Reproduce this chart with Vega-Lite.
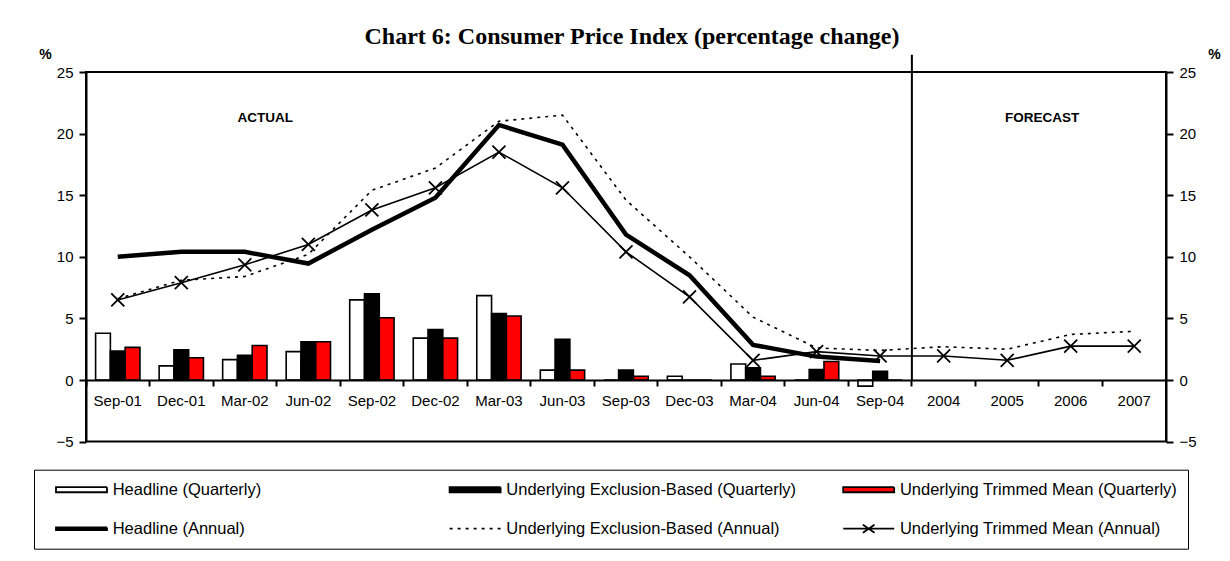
{
  "$schema": "https://vega.github.io/schema/vega-lite/v6.json",
  "width": 1080,
  "height": 369.6,
  "autosize": {"type": "none"},
  "padding": {"left": 86, "top": 72, "right": 64, "bottom": 119.4},
  "background": "white",
  "title": {
    "text": "Chart 6: Consumer Price Index (percentage change)",
    "font": "Liberation Serif", "fontSize": 24, "fontWeight": "bold", "color": "black",
    "anchor": "middle", "frame": "group", "offset": -2, "dx": 6
  },
  "config": {
    "view": {"stroke": "black", "strokeWidth": 2},
    "axis": {
      "labelFont": "Liberation Sans", "labelFontSize": 15, "labelColor": "black",
      "domainColor": "black", "domainWidth": 2, "tickColor": "black", "tickWidth": 2,
      "grid": false, "titleFont": "Liberation Sans", "titleFontSize": 14,
      "titleFontWeight": "bold", "titleColor": "black"
    }
  },
  "data": {
    "values": [
      {"period": "Sep-01", "series": "Headline (Quarterly)", "value": 3.8},
      {"period": "Dec-01", "series": "Headline (Quarterly)", "value": 1.15},
      {"period": "Mar-02", "series": "Headline (Quarterly)", "value": 1.65},
      {"period": "Jun-02", "series": "Headline (Quarterly)", "value": 2.3},
      {"period": "Sep-02", "series": "Headline (Quarterly)", "value": 6.5},
      {"period": "Dec-02", "series": "Headline (Quarterly)", "value": 3.4},
      {"period": "Mar-03", "series": "Headline (Quarterly)", "value": 6.85},
      {"period": "Jun-03", "series": "Headline (Quarterly)", "value": 0.8},
      {"period": "Sep-03", "series": "Headline (Quarterly)", "value": 0},
      {"period": "Dec-03", "series": "Headline (Quarterly)", "value": 0.3},
      {"period": "Mar-04", "series": "Headline (Quarterly)", "value": 1.3},
      {"period": "Jun-04", "series": "Headline (Quarterly)", "value": 0},
      {"period": "Sep-04", "series": "Headline (Quarterly)", "value": -0.5},
      {"period": "Sep-01", "series": "Underlying Exclusion-Based (Quarterly)", "value": 2.35},
      {"period": "Dec-01", "series": "Underlying Exclusion-Based (Quarterly)", "value": 2.45},
      {"period": "Mar-02", "series": "Underlying Exclusion-Based (Quarterly)", "value": 2.0},
      {"period": "Jun-02", "series": "Underlying Exclusion-Based (Quarterly)", "value": 3.1},
      {"period": "Sep-02", "series": "Underlying Exclusion-Based (Quarterly)", "value": 7.0},
      {"period": "Dec-02", "series": "Underlying Exclusion-Based (Quarterly)", "value": 4.1},
      {"period": "Mar-03", "series": "Underlying Exclusion-Based (Quarterly)", "value": 5.4},
      {"period": "Jun-03", "series": "Underlying Exclusion-Based (Quarterly)", "value": 3.3},
      {"period": "Sep-03", "series": "Underlying Exclusion-Based (Quarterly)", "value": 0.8},
      {"period": "Dec-03", "series": "Underlying Exclusion-Based (Quarterly)", "value": 0},
      {"period": "Mar-04", "series": "Underlying Exclusion-Based (Quarterly)", "value": 1.0},
      {"period": "Jun-04", "series": "Underlying Exclusion-Based (Quarterly)", "value": 0.85},
      {"period": "Sep-04", "series": "Underlying Exclusion-Based (Quarterly)", "value": 0.7},
      {"period": "Sep-01", "series": "Underlying Trimmed Mean (Quarterly)", "value": 2.65},
      {"period": "Dec-01", "series": "Underlying Trimmed Mean (Quarterly)", "value": 1.8},
      {"period": "Mar-02", "series": "Underlying Trimmed Mean (Quarterly)", "value": 2.8},
      {"period": "Jun-02", "series": "Underlying Trimmed Mean (Quarterly)", "value": 3.1},
      {"period": "Sep-02", "series": "Underlying Trimmed Mean (Quarterly)", "value": 5.05},
      {"period": "Dec-02", "series": "Underlying Trimmed Mean (Quarterly)", "value": 3.4},
      {"period": "Mar-03", "series": "Underlying Trimmed Mean (Quarterly)", "value": 5.2},
      {"period": "Jun-03", "series": "Underlying Trimmed Mean (Quarterly)", "value": 0.8},
      {"period": "Sep-03", "series": "Underlying Trimmed Mean (Quarterly)", "value": 0.3},
      {"period": "Dec-03", "series": "Underlying Trimmed Mean (Quarterly)", "value": 0},
      {"period": "Mar-04", "series": "Underlying Trimmed Mean (Quarterly)", "value": 0.3},
      {"period": "Jun-04", "series": "Underlying Trimmed Mean (Quarterly)", "value": 1.5},
      {"period": "Sep-04", "series": "Underlying Trimmed Mean (Quarterly)", "value": 0},
      {"period": "Sep-01", "series": "Headline (Annual)", "value": 10.0},
      {"period": "Dec-01", "series": "Headline (Annual)", "value": 10.4},
      {"period": "Mar-02", "series": "Headline (Annual)", "value": 10.4},
      {"period": "Jun-02", "series": "Headline (Annual)", "value": 9.45},
      {"period": "Sep-02", "series": "Headline (Annual)", "value": 12.2},
      {"period": "Dec-02", "series": "Headline (Annual)", "value": 14.8},
      {"period": "Mar-03", "series": "Headline (Annual)", "value": 20.7},
      {"period": "Jun-03", "series": "Headline (Annual)", "value": 19.1},
      {"period": "Sep-03", "series": "Headline (Annual)", "value": 11.8},
      {"period": "Dec-03", "series": "Headline (Annual)", "value": 8.5},
      {"period": "Mar-04", "series": "Headline (Annual)", "value": 2.85},
      {"period": "Jun-04", "series": "Headline (Annual)", "value": 1.9},
      {"period": "Sep-04", "series": "Headline (Annual)", "value": 1.55},
      {"period": "Sep-01", "series": "Underlying Exclusion-Based (Annual)", "value": 6.6},
      {"period": "Dec-01", "series": "Underlying Exclusion-Based (Annual)", "value": 8.1},
      {"period": "Mar-02", "series": "Underlying Exclusion-Based (Annual)", "value": 8.4},
      {"period": "Jun-02", "series": "Underlying Exclusion-Based (Annual)", "value": 10.2},
      {"period": "Sep-02", "series": "Underlying Exclusion-Based (Annual)", "value": 15.4},
      {"period": "Dec-02", "series": "Underlying Exclusion-Based (Annual)", "value": 17.2},
      {"period": "Mar-03", "series": "Underlying Exclusion-Based (Annual)", "value": 21.0},
      {"period": "Jun-03", "series": "Underlying Exclusion-Based (Annual)", "value": 21.5},
      {"period": "Sep-03", "series": "Underlying Exclusion-Based (Annual)", "value": 14.6},
      {"period": "Dec-03", "series": "Underlying Exclusion-Based (Annual)", "value": 10.0},
      {"period": "Mar-04", "series": "Underlying Exclusion-Based (Annual)", "value": 5.1},
      {"period": "Jun-04", "series": "Underlying Exclusion-Based (Annual)", "value": 2.6},
      {"period": "Sep-04", "series": "Underlying Exclusion-Based (Annual)", "value": 2.4},
      {"period": "2004", "series": "Underlying Exclusion-Based (Annual)", "value": 2.7},
      {"period": "2005", "series": "Underlying Exclusion-Based (Annual)", "value": 2.5},
      {"period": "2006", "series": "Underlying Exclusion-Based (Annual)", "value": 3.7},
      {"period": "2007", "series": "Underlying Exclusion-Based (Annual)", "value": 3.95},
      {"period": "Sep-01", "series": "Underlying Trimmed Mean (Annual)", "value": 6.5},
      {"period": "Dec-01", "series": "Underlying Trimmed Mean (Annual)", "value": 7.9},
      {"period": "Mar-02", "series": "Underlying Trimmed Mean (Annual)", "value": 9.35},
      {"period": "Jun-02", "series": "Underlying Trimmed Mean (Annual)", "value": 11.0},
      {"period": "Sep-02", "series": "Underlying Trimmed Mean (Annual)", "value": 13.8},
      {"period": "Dec-02", "series": "Underlying Trimmed Mean (Annual)", "value": 15.6},
      {"period": "Mar-03", "series": "Underlying Trimmed Mean (Annual)", "value": 18.5},
      {"period": "Jun-03", "series": "Underlying Trimmed Mean (Annual)", "value": 15.6},
      {"period": "Sep-03", "series": "Underlying Trimmed Mean (Annual)", "value": 10.4},
      {"period": "Dec-03", "series": "Underlying Trimmed Mean (Annual)", "value": 6.75},
      {"period": "Mar-04", "series": "Underlying Trimmed Mean (Annual)", "value": 1.6},
      {"period": "Jun-04", "series": "Underlying Trimmed Mean (Annual)", "value": 2.3},
      {"period": "Sep-04", "series": "Underlying Trimmed Mean (Annual)", "value": 1.95},
      {"period": "2004", "series": "Underlying Trimmed Mean (Annual)", "value": 1.95},
      {"period": "2005", "series": "Underlying Trimmed Mean (Annual)", "value": 1.6},
      {"period": "2006", "series": "Underlying Trimmed Mean (Annual)", "value": 2.75},
      {"period": "2007", "series": "Underlying Trimmed Mean (Annual)", "value": 2.75}
    ]
  },
  "layer": [
    {
      "transform": [{"filter": {"field": "series", "oneOf": ["Headline (Quarterly)", "Underlying Exclusion-Based (Quarterly)", "Underlying Trimmed Mean (Quarterly)"]}}],
      "mark": {"type": "bar", "stroke": "black", "strokeWidth": 1.6},
      "encoding": {
        "x": {
          "field": "period", "type": "nominal", "title": null,
          "scale": {"domain": ["Sep-01", "Dec-01", "Mar-02", "Jun-02", "Sep-02", "Dec-02", "Mar-03", "Jun-03", "Sep-03", "Dec-03", "Mar-04", "Jun-04", "Sep-04", "2004", "2005", "2006", "2007"], "paddingInner": 0, "paddingOuter": 0},
          "axis": {"orient": "bottom", "offset": -61.6, "bandPosition": 0, "tickSize": 6, "labelPadding": 7, "labelAngle": 0, "zindex": 1}
        },
        "xOffset": {
          "field": "series", "type": "nominal",
          "scale": {"domain": ["Headline (Quarterly)", "Underlying Exclusion-Based (Quarterly)", "Underlying Trimmed Mean (Quarterly)"], "paddingInner": 0, "paddingOuter": 0.65}
        },
        "y": {
          "field": "value", "type": "quantitative",
          "scale": {"domain": [-5, 25], "nice": false, "zero": false},
          "axis": {"orient": "left", "values": [-5, 0, 5, 10, 15, 20, 25], "tickSize": 7, "labelPadding": 6, "title": "%", "titleAngle": 0, "titleX": -41, "titleY": -14, "titleAlign": "center", "titleBaseline": "alphabetic"}
        },
        "fill": {
          "field": "series", "type": "nominal",
          "scale": {
            "domain": ["Headline (Quarterly)", "Underlying Exclusion-Based (Quarterly)", "Underlying Trimmed Mean (Quarterly)", "Headline (Annual)", "Underlying Exclusion-Based (Annual)", "Underlying Trimmed Mean (Annual)"],
            "range": ["white", "black", "red", "black", "transparent", "transparent"]
          },
          "legend": {
            "title": null, "orient": "none", "legendX": -52, "legendY": 397.7,
            "columns": 3, "direction": "horizontal", "gridAlign": "all",
            "columnPadding": 34.6, "rowPadding": 19, "padding": 10,
            "strokeColor": "black", "symbolSize": 2601, "symbolOffset": 11,
            "labelOffset": 4.7, "clipHeight": 20,
            "symbolType": "M-1,-0.1H1V0.1H-1Z", "symbolStrokeColor": "black", "symbolStrokeWidth": 1.8,
            "labelFont": "Liberation Sans", "labelFontSize": 16.5, "labelColor": "black", "labelLimit": 500,
            "encode": {
              "symbols": {
                "update": {
                  "shape": {"signal": "datum.index < 3 ? 'M-1,-0.1H1V0.1H-1Z' : datum.index == 3 ? 'M-1,-0.05H1V0.05H-1Z' : datum.index == 5 ? 'M-1,0H1M-0.23,-0.16L0.23,0.16M-0.23,0.16L0.23,-0.16' : 'M-1,0H1'"},
                  "strokeDash": {"signal": "datum.index == 4 ? [3, 5] : [1, 0]"}
                }
              }
            }
          }
        }
      }
    },
    {
      "transform": [{"filter": {"field": "series", "equal": "Headline (Annual)"}}],
      "mark": {"type": "line", "stroke": "black", "strokeWidth": 4.5},
      "encoding": {
        "x": {"field": "period", "type": "nominal", "title": null},
        "y": {
          "field": "value", "type": "quantitative",
          "axis": {"orient": "right", "values": [-5, 0, 5, 10, 15, 20, 25], "tickSize": 7, "labelPadding": 6, "title": "%", "titleAngle": 0, "titleX": 48, "titleY": -14, "titleAlign": "center", "titleBaseline": "alphabetic"}
        }
      }
    },
    {
      "transform": [{"filter": {"field": "series", "equal": "Underlying Exclusion-Based (Annual)"}}],
      "mark": {"type": "line", "stroke": "black", "strokeWidth": 1.6, "strokeDash": [3, 5]},
      "encoding": {
        "x": {"field": "period", "type": "nominal", "title": null},
        "y": {"field": "value", "type": "quantitative", "axis": null}
      }
    },
    {
      "transform": [{"filter": {"field": "series", "equal": "Underlying Trimmed Mean (Annual)"}}],
      "mark": {"type": "line", "stroke": "black", "strokeWidth": 1.6},
      "encoding": {
        "x": {"field": "period", "type": "nominal", "title": null},
        "y": {"field": "value", "type": "quantitative", "axis": null}
      }
    },
    {
      "transform": [{"filter": {"field": "series", "equal": "Underlying Trimmed Mean (Annual)"}}],
      "mark": {"type": "point", "shape": "M-1,-1L1,1M-1,1L1,-1", "filled": false, "stroke": "black", "strokeWidth": 1.8, "size": 169, "opacity": 1},
      "encoding": {
        "x": {"field": "period", "type": "nominal", "title": null},
        "y": {"field": "value", "type": "quantitative", "axis": null}
      }
    },
    {
      "data": {"values": [{"note": "forecast boundary"}]},
      "mark": {"type": "rule", "stroke": "black", "strokeWidth": 2},
      "encoding": {
        "x": {"datum": "2004", "type": "nominal", "bandPosition": 0},
        "y": {"datum": 26.4, "type": "quantitative", "axis": null},
        "y2": {"datum": 0}
      }
    },
    {
      "data": {"values": [{"note": "ACTUAL"}]},
      "mark": {"type": "text", "font": "Liberation Sans", "fontSize": 13.5, "fontWeight": "bold", "color": "black", "align": "center", "baseline": "middle"},
      "encoding": {
        "x": {"datum": "Mar-02", "type": "nominal", "bandPosition": 0.82},
        "y": {"datum": 21.3, "type": "quantitative", "axis": null},
        "text": {"field": "note"}
      }
    },
    {
      "data": {"values": [{"note": "FORECAST"}]},
      "mark": {"type": "text", "font": "Liberation Sans", "fontSize": 13.5, "fontWeight": "bold", "color": "black", "align": "center", "baseline": "middle"},
      "encoding": {
        "x": {"datum": "2006", "type": "nominal", "bandPosition": 0.05},
        "y": {"datum": 21.3, "type": "quantitative", "axis": null},
        "text": {"field": "note"}
      }
    }
  ],
  "resolve": {"axis": {"y": "independent"}}
}
